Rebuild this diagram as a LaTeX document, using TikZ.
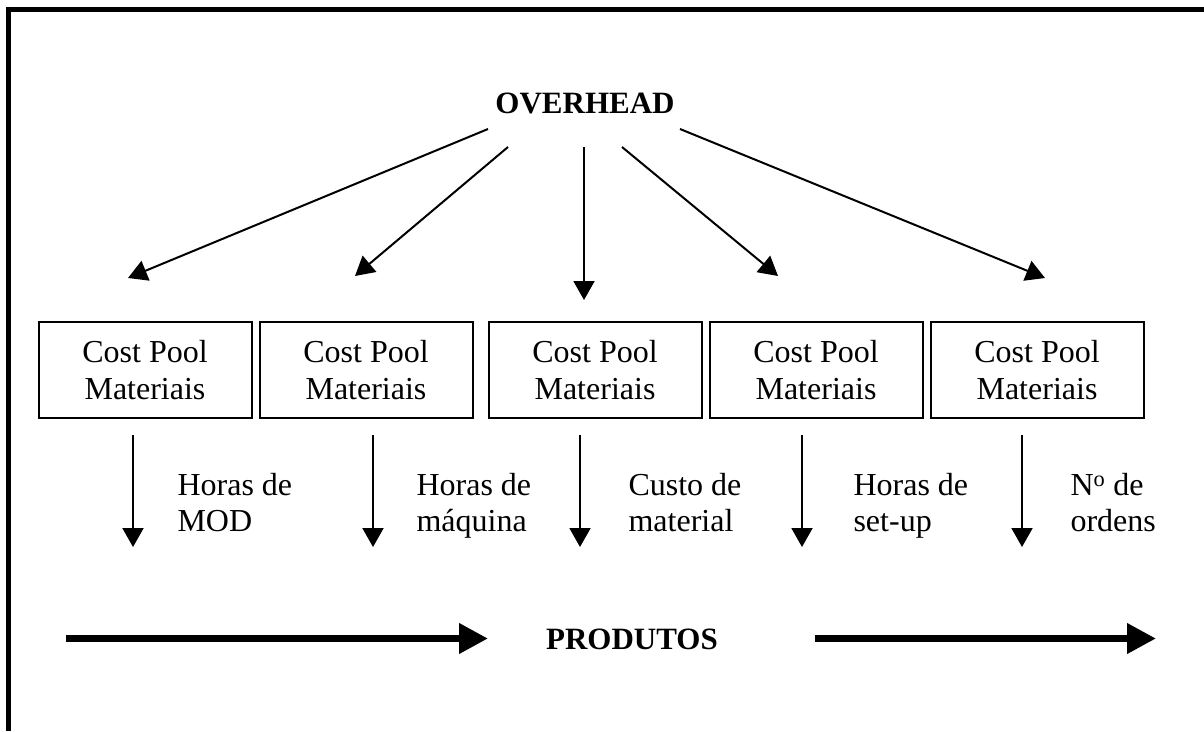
\documentclass[tikz,border=0pt]{standalone}
\usepackage{fontspec}
\setmainfont{Liberation Serif}
\usetikzlibrary{arrows.meta,positioning}

\begin{document}
\begin{tikzpicture}[x=1pt,y=-1pt]%[->,>=stealth', node distance=8pt]
\tikzstyle{pool}=[draw, shape=rectangle, line width=2pt, outer sep=0pt, minimum width=213pt, minimum height=96pt, align=center, font=\fontsize{32}{37}\selectfont]
\tikzstyle{driver}=[anchor=west, align=left, text depth=0pt, font=\fontsize{32}{36}\selectfont]
\tikzstyle{arr}=[line width=2pt, -{Triangle[length=19pt,width=21pt]}]
\tikzstyle{bigarr}=[line width=7pt, -{Triangle[length=29pt,width=29pt]}]
\useasboundingbox (0,0) rectangle (1204,731);
\draw[line width=5pt] (1204,9.5) -- (8.5,9.5) -- (8.5,731);

\node[anchor=base, font=\fontsize{31}{36}\selectfont\bfseries] (0) at (585,113) {OVERHEAD};
\node[pool] (1) at (145,370) {Cost Pool\\Materiais};
\node[pool] (2) [right=8pt of 1] {Cost Pool\\Materiais};
\node[pool] (3) [right=16pt of 2] {Cost Pool\\Materiais};
\node[pool] (4) [right=8pt of 3] {Cost Pool\\Materiais};
\node[pool] (5) [right=8pt of 4] {Cost Pool\\Materiais};

\coordinate (s1) at (488,129); \coordinate (t1) at (128,278);
\coordinate (s2) at (508,147); \coordinate (t2) at (355,276);
\coordinate (s3) at (584,147); \coordinate (t3) at (584,300);
\coordinate (s4) at (622,147); \coordinate (t4) at (778,276);
\coordinate (s5) at (680,129); \coordinate (t5) at (1045,278);
\foreach \i in {1,...,5}
  \draw[arr] (s\i) to (t\i);

\coordinate (d1) at (133,435); \coordinate (e1) at (133,547);
\coordinate (d2) at (373,435); \coordinate (e2) at (373,547);
\coordinate (d3) at (580,435); \coordinate (e3) at (580,547);
\coordinate (d4) at (802,435); \coordinate (e4) at (802,547);
\coordinate (d5) at (1022,435); \coordinate (e5) at (1022,547);
\foreach \i in {1,...,5}
  \draw[arr] (d\i) to (e\i);

\node[driver] (6) at (174,502) {Horas de\\MOD};
\node[driver] (7) at (413,502) {Horas de\\m\'aquina};
\node[driver] (8) at (625,502) {Custo de\\material};
\node[driver] (9) at (850,502) {Horas de\\set-up};
\node[driver] (10) at (1067,502) {N\textsuperscript{o} de\\ordens};

\node[anchor=base, font=\fontsize{31}{36}\selectfont\bfseries] (11) at (632,649) {PRODUTOS};
\coordinate (p1) at (66,638.5); \coordinate (p2) at (488,638.5);
\coordinate (p3) at (815,638.5); \coordinate (p4) at (1156,638.5);
\draw[bigarr] (p1) to (p2);
\draw[bigarr] (p3) to (p4);

\end{tikzpicture}
\end{document}
